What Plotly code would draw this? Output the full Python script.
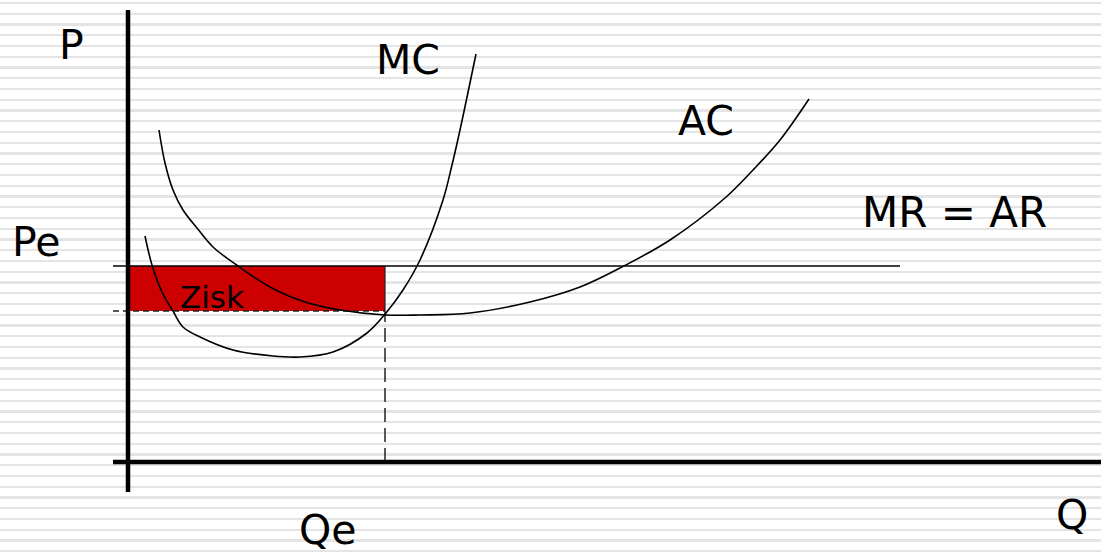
import plotly.graph_objects as go

# Diagram coordinates: Q to the right, P upwards, origin at the axes crossing
ac_q = [31, 37, 45, 55, 69, 85, 110, 142, 177, 212, 257, 292, 342, 402, 452, 492, 542, 597, 625, 652, 681]
ac_p = [332, 299, 272, 252, 234, 215, 196, 175, 160, 152, 147, 147, 149, 160, 175, 194, 222, 264, 292, 322, 363]

mc_q = [17, 24, 34, 45, 55, 72, 105, 145, 172, 205, 239, 258, 275, 292, 315, 324, 332, 348]
mc_p = [226, 197, 170, 151, 135, 125, 112, 106, 105, 110, 129, 149, 172, 202, 262, 297, 332, 408]

pe = 196          # price level (MR = AR)
p_min = 151       # AC at Qe
qe = 257          # equilibrium quantity
mr_q = [-15, 772]
q_axis = [-15, 973]
p_axis = [-30, 452]

labels = ["P", "MC", "AC", "MR = AR", "Pe", "Zisk", "Qe", "Q"]
label_q = [-57, 280, 578, 826, -92, 84, 200, 944]
label_p = [417, 402, 341, 250, 220, 165, -68, -53]
label_size = [41, 41, 41, 42, 41, 31, 41, 41]

FONT = "DejaVu Sans"
fig = go.Figure()

# dummy trace on the stripe axis
fig.add_trace(go.Scatter(x=[], y=[], yaxis="y", showlegend=False))

# profit rectangle
fig.add_trace(go.Scatter(x=[0, qe, qe, 0, 0], y=[p_min, p_min, pe, pe, p_min], yaxis="y2",
                         fill="toself", fillcolor="#cc0000", mode="none", showlegend=False,
                         hoverinfo="skip"))
# rectangle right edge
fig.add_trace(go.Scatter(x=[qe, qe], y=[p_min, pe], yaxis="y2", mode="lines",
                         line=dict(color="#222", width=1.2), showlegend=False, hoverinfo="skip"))
# dashed guides
fig.add_trace(go.Scatter(x=[-15, qe], y=[p_min, p_min], yaxis="y2", mode="lines",
                         line=dict(color="#222", width=1.3, dash="6px,4px"), showlegend=False,
                         hoverinfo="skip"))
fig.add_trace(go.Scatter(x=[qe, qe], y=[0, p_min], yaxis="y2", mode="lines",
                         line=dict(color="#222", width=1.5, dash="14px,6px"), showlegend=False,
                         hoverinfo="skip"))
# MR = AR
fig.add_trace(go.Scatter(x=mr_q, y=[pe, pe], yaxis="y2", mode="lines",
                         line=dict(color="black", width=1.5), showlegend=False, hoverinfo="skip"))
# curves
fig.add_trace(go.Scatter(x=ac_q, y=ac_p, yaxis="y2", mode="lines",
                         line=dict(color="black", width=1.6, shape="spline"), showlegend=False,
                         hoverinfo="skip"))
fig.add_trace(go.Scatter(x=mc_q, y=mc_p, yaxis="y2", mode="lines",
                         line=dict(color="black", width=1.6, shape="spline"), showlegend=False,
                         hoverinfo="skip"))
# axes
fig.add_trace(go.Scatter(x=[0, 0], y=p_axis, yaxis="y2", mode="lines",
                         line=dict(color="black", width=4.5), showlegend=False, hoverinfo="skip"))
fig.add_trace(go.Scatter(x=q_axis, y=[0, 0], yaxis="y2", mode="lines",
                         line=dict(color="black", width=4.5), showlegend=False, hoverinfo="skip"))

for t, q, p, s in zip(labels, label_q, label_p, label_size):
    fig.add_annotation(x=q, y=p, xref="x", yref="y2", text=t, showarrow=False,
                       xanchor="center", yanchor="middle",
                       font=dict(family=FONT, size=s, color="black"))

fig.update_layout(
    width=1101, height=554,
    margin=dict(l=0, r=0, t=0, b=0),
    paper_bgcolor="white", plot_bgcolor="white",
    hovermode=False,
    xaxis=dict(range=[-128, 973], showgrid=False, zeroline=False, showticklabels=False,
               ticks="", showline=False, fixedrange=True),
    yaxis=dict(range=[51.26, -0.279], tick0=0, dtick=1, showgrid=True,
               gridcolor="#e4e4e4", gridwidth=2.2, zeroline=False, showticklabels=False,
               ticks="", showline=False, fixedrange=True),
    yaxis2=dict(range=[-92, 462], overlaying="y", visible=False, showgrid=False,
                zeroline=False, fixedrange=True),
)

fig.write_html("out.html", config={"displayModeBar": False, "staticPlot": True},
               post_script="document.body.style.margin='0';document.body.style.overflow='hidden';")
